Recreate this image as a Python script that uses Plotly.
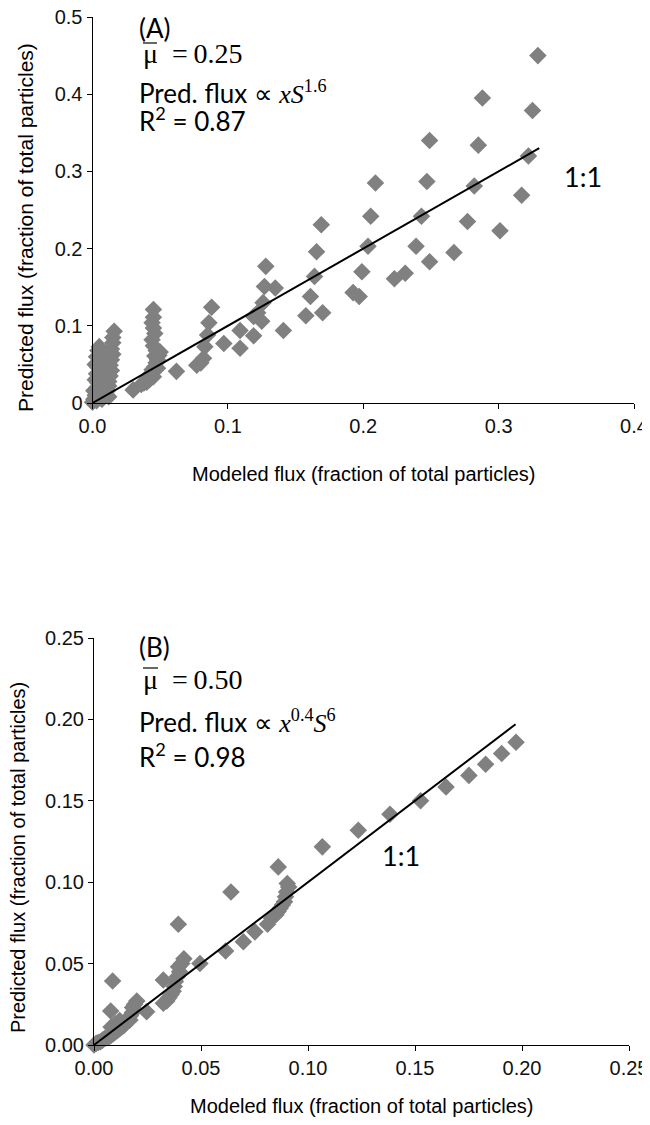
import plotly.graph_objects as go

# ---------------- Panel A data ----------------
a_x = [0.329, 0.288, 0.325, 0.249, 0.285, 0.322, 0.247, 0.282, 0.317, 0.243, 0.277, 0.301,
       0.239, 0.267, 0.249, 0.231, 0.223,
       0.209, 0.2055, 0.2035, 0.199, 0.1925, 0.197,
       0.169, 0.1655, 0.164, 0.161, 0.1576, 0.170, 0.141,
       0.128, 0.127, 0.135, 0.126, 0.122, 0.125, 0.119, 0.119, 0.109, 0.109, 0.097,
       0.088, 0.086, 0.085, 0.083, 0.082, 0.080, 0.077, 0.062,
       0.045, 0.045, 0.044, 0.045, 0.046, 0.044, 0.045, 0.047, 0.046, 0.048, 0.047, 0.046,
       0.044, 0.043, 0.045, 0.042, 0.040, 0.038, 0.036, 0.030, 0.049, 0.050, 0.048, 0.041,
       0.016, 0.015, 0.015, 0.014, 0.015, 0.014, 0.013, 0.014, 0.013, 0.012, 0.012, 0.011,
       0.010, 0.012,
       0.005, 0.004, 0.006, 0.003, 0.005, 0.002, 0.004, 0.006, 0.003, 0.005, 0.002, 0.004,
       0.006, 0.003, 0.001, 0.004, 0.002, 0.005, 0.001, 0.003, 0.000, 0.008, 0.009, 0.008,
       0.009, 0.007, 0.008, 0.007]
a_y = [0.450, 0.395, 0.379, 0.340, 0.334, 0.320, 0.287, 0.281, 0.269, 0.242, 0.235, 0.223,
       0.203, 0.195, 0.183, 0.168, 0.161,
       0.285, 0.242, 0.203, 0.170, 0.143, 0.138,
       0.231, 0.196, 0.164, 0.138, 0.113, 0.117, 0.094,
       0.177, 0.151, 0.149, 0.130, 0.117, 0.106, 0.112, 0.087, 0.094, 0.071, 0.077,
       0.124, 0.104, 0.088, 0.073, 0.058, 0.052, 0.049, 0.041,
       0.121, 0.111, 0.104, 0.097, 0.090, 0.082, 0.074, 0.068, 0.061, 0.056, 0.052, 0.047,
       0.043, 0.038, 0.034, 0.030, 0.027, 0.026, 0.024, 0.017, 0.062, 0.066, 0.045, 0.033,
       0.093, 0.085, 0.078, 0.070, 0.063, 0.056, 0.049, 0.042, 0.035, 0.028, 0.022, 0.016,
       0.011, 0.008,
       0.073, 0.068, 0.064, 0.060, 0.055, 0.050, 0.046, 0.042, 0.038, 0.034, 0.030, 0.026,
       0.022, 0.019, 0.016, 0.013, 0.010, 0.008, 0.005, 0.003, 0.001, 0.060, 0.050, 0.040,
       0.030, 0.020, 0.012, 0.005]
a_line = [0.0, 0.33]

# ---------------- Panel B data ----------------
b_x = [0.1972, 0.1905, 0.183, 0.1752, 0.1645, 0.1526, 0.1383, 0.1235, 0.1067,
       0.0861, 0.0903, 0.091, 0.090, 0.0895, 0.089, 0.088, 0.087, 0.086, 0.085, 0.083,
       0.0811, 0.0752, 0.0698, 0.0615, 0.064, 0.0495,
       0.042, 0.041, 0.0395, 0.040, 0.039, 0.038, 0.0375, 0.037, 0.036, 0.035, 0.034,
       0.0394, 0.0324, 0.0324,
       0.0246, 0.020, 0.019, 0.018, 0.018, 0.017, 0.016, 0.0168, 0.015, 0.014, 0.013,
       0.012, 0.011, 0.010, 0.009, 0.008, 0.007, 0.006, 0.005, 0.004, 0.003, 0.002,
       0.001, 0.0,
       0.0087, 0.0078, 0.010, 0.012, 0.008]
b_y = [0.186, 0.179, 0.1724, 0.1656, 0.1585, 0.150, 0.1417, 0.1319, 0.1217,
       0.1094, 0.0992, 0.097, 0.094, 0.091, 0.088, 0.086, 0.084, 0.082, 0.080, 0.078,
       0.0742, 0.0695, 0.0634, 0.0577, 0.094, 0.0501,
       0.053, 0.050, 0.048, 0.045, 0.042, 0.039, 0.036, 0.033, 0.031, 0.029, 0.027,
       0.0742, 0.0399, 0.0256,
       0.0204, 0.027, 0.025, 0.023, 0.020, 0.018, 0.016, 0.0153, 0.014, 0.012, 0.011,
       0.010, 0.009, 0.008, 0.007, 0.006, 0.005, 0.0045, 0.004, 0.003, 0.002, 0.0015,
       0.001, 0.0,
       0.0393, 0.0209, 0.013, 0.015, 0.011]
b_line = [0.0, 0.197]

# ---------------- Ticks ----------------
a_xticks = [0.0, 0.1, 0.2, 0.3, 0.4]
a_xtext = ["0.0", "0.1", "0.2", "0.3", "0.4"]
a_yticks = [0.0, 0.1, 0.2, 0.3, 0.4, 0.5]
a_ytext = ["0", "0.1", "0.2", "0.3", "0.4", "0.5"]
b_ticks = [0.0, 0.05, 0.10, 0.15, 0.20, 0.25]
b_text = ["0.00", "0.05", "0.10", "0.15", "0.20", "0.25"]

x_title = "Modeled flux (fraction of total particles)"
y_title = "Predicted flux (fraction of total particles)"

# The page body has an 8px margin; keep the page from scrolling
OFF = 8
W, H = 650 - OFF, 1125 - 2 * OFF

GRAY = "#808080"
MARK = dict(symbol="diamond", size=13.5, color=GRAY, line=dict(width=0))
SANS = "Liberation Sans, Arial, sans-serif"
CAL = "Lato, Carlito, sans-serif"
SERIF = "'Liberation Serif', 'Times New Roman', serif"


def px(x):
    return (x - OFF) / W


def py(y):
    return 1 - (y - OFF) / H


fig = go.Figure()
fig.add_trace(go.Scatter(x=a_x, y=a_y, mode="markers", marker=MARK, cliponaxis=False,
                         xaxis="x", yaxis="y", hoverinfo="x+y"))
fig.add_trace(go.Scatter(x=a_line, y=a_line, mode="lines", line=dict(color="black", width=2),
                         xaxis="x", yaxis="y", cliponaxis=False))
fig.add_trace(go.Scatter(x=b_x, y=b_y, mode="markers", marker=MARK, cliponaxis=False,
                         xaxis="x2", yaxis="y2", hoverinfo="x+y"))
fig.add_trace(go.Scatter(x=b_line, y=b_line, mode="lines", line=dict(color="black", width=2),
                         xaxis="x2", yaxis="y2", cliponaxis=False))

axis_common = dict(showline=True, linecolor="black", linewidth=1, ticks="outside",
                   ticklen=5, tickcolor="black", tickwidth=1, showgrid=False, zeroline=False,
                   tickfont=dict(family=SANS, size=20, color="#111"), automargin=False,
                   tickmode="array", ticklabeloverflow="allow")

fig.update_layout(
    width=W, height=H,
    margin=dict(l=0, r=0, t=0, b=0),
    paper_bgcolor="white", plot_bgcolor="white",
    showlegend=False,
    xaxis=dict(axis_common, domain=[px(92.5), px(634)], range=[0, 0.4], anchor="y",
               tickvals=a_xticks, ticktext=a_xtext),
    yaxis=dict(axis_common, domain=[py(403), py(17)], range=[0, 0.5], anchor="x",
               tickvals=a_yticks, ticktext=a_ytext),
    xaxis2=dict(axis_common, domain=[px(94), px(629)], range=[0, 0.25], anchor="y2",
                tickvals=b_ticks, ticktext=b_text),
    yaxis2=dict(axis_common, domain=[py(1045), py(638)], range=[0, 0.25], anchor="x2",
                tickvals=b_ticks, ticktext=b_text),
)


def ann(text, x, y, font, size, xanchor="left", angle=0):
    fig.add_annotation(text=text, x=px(x), y=py(y), xref="paper", yref="paper",
                       xanchor=xanchor, yanchor="middle", showarrow=False, textangle=angle,
                       font=dict(family=font, size=size, color="black"))


def bar(x0, x1, y):
    fig.add_shape(type="line", xref="paper", yref="paper", x0=px(x0), x1=px(x1),
                  y0=py(y), y1=py(y), line=dict(color="black", width=1.2))


# Axis titles
ann(x_title, 363.5, 474, SANS, 20, xanchor="center")
ann(y_title, 26, 228, SANS, 21, xanchor="center", angle=-90)
ann(x_title, 361.5, 1106, SANS, 20, xanchor="center")
ann(y_title, 18, 858, SANS, 20, xanchor="center", angle=-90)

serif_span = "<span style=\"font-family:'Liberation Serif', serif\">"
MU_A = "μ\u2002=\u20090.25"
MU_B = "μ\u2002=\u20090.50"

# Panel A annotations
ann("(A)", 137, 28, CAL, 26)
ann(MU_A, 141, 53, SERIF, 28)
bar(143, 157, 43)
ann("Pred. flux " + serif_span + "∝ <i>xS</i><sup>1.6</sup></span>", 137, 92, CAL, 26)
ann("R<sup>2</sup> = 0.87", 137, 120, CAL, 26)
ann("1:1", 562, 177, CAL, 27)

# Panel B annotations
ann("(B)", 137, 647, CAL, 26)
ann(MU_B, 141, 679, SERIF, 28)
bar(143, 158, 668)
ann("Pred. flux " + serif_span + "∝ <i>x</i><sup>0.4</sup><i>S</i><sup>6</sup></span>", 137, 721, CAL, 26)
ann("R<sup>2</sup> = 0.98", 137, 755, CAL, 26)
ann("1:1", 380, 855, CAL, 27)

fig.write_html("out.html")
